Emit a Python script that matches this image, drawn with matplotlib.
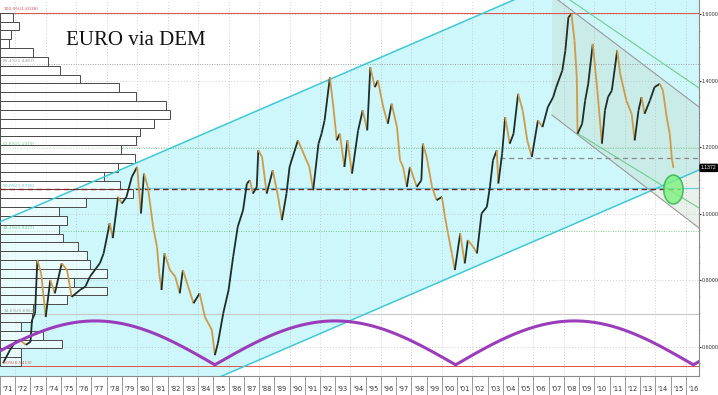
import numpy as np
import matplotlib.pyplot as plt
from matplotlib.collections import LineCollection
from matplotlib.patches import Ellipse, Polygon

# --- data ---
# price path (year, EUR equivalent via DEM), main turning points
price_t = [1971.2, 1971.65, 1972.0, 1972.3, 1972.7, 1973.0, 1973.1, 1973.3, 1973.45, 1973.7,
           1974.0, 1974.3, 1974.6, 1975.05, 1975.4, 1975.7, 1976.25, 1976.6, 1976.9, 1977.56,
           1977.8, 1978.2, 1978.4, 1978.75, 1979.0, 1979.3, 1979.65, 1980.0, 1980.25, 1980.45,
           1980.7, 1981.05, 1981.3, 1981.45, 1981.6, 1981.8, 1982.15, 1982.5, 1982.8, 1983.0,
           1983.35, 1983.7, 1984.1, 1984.45, 1984.9, 1985.1, 1985.3, 1985.65, 1986.0, 1986.3,
           1986.6, 1986.95, 1987.2, 1987.4, 1987.6, 1987.85, 1987.95, 1988.2, 1988.5, 1988.9,
           1989.25, 1989.5, 1989.8, 1990.0, 1990.55, 1991.3, 1991.55, 1991.9, 1992.1, 1992.3,
           1992.65, 1992.9, 1993.1, 1993.3, 1993.6, 1993.8, 1994.1, 1994.5, 1994.8, 1995.1,
           1995.3, 1995.6, 1995.8, 1996.15, 1996.45, 1996.7, 1997.05, 1997.25, 1997.45, 1997.7,
           1997.9, 1998.35, 1998.65, 1998.75, 1999.0, 1999.35, 1999.65, 2000.0, 2000.2, 2000.4,
           2000.65, 2000.85, 2001.2, 2001.5, 2001.7, 2002.05, 2002.3, 2002.6, 2002.95, 2003.15,
           2003.35, 2003.6, 2003.7, 2003.95, 2004.15, 2004.45, 2004.7, 2005.0, 2005.3, 2005.6,
           2005.9, 2006.3, 2006.6, 2006.95, 2007.3, 2007.5, 2007.9, 2008.1, 2008.3, 2008.5,
           2008.7, 2008.85, 2008.9, 2009.2, 2009.4, 2009.6, 2009.9, 2010.2, 2010.5, 2010.7,
           2010.9, 2011.15, 2011.5, 2011.7, 2012.1, 2012.45, 2012.65, 2012.9, 2013.1, 2013.3,
           2013.65, 2013.95, 2014.3, 2014.5, 2014.75, 2014.95, 2015.1, 2015.2]
price_v = [0.550, 0.589, 0.614, 0.620, 0.605, 0.614, 0.680, 0.700, 0.860, 0.820,
           0.689, 0.800, 0.760, 0.850, 0.830, 0.749, 0.770, 0.780, 0.810, 0.851,
           0.880, 0.971, 0.926, 1.050, 1.030, 1.050, 1.110, 1.140, 1.000, 1.120,
           1.080, 0.960, 0.900, 0.820, 0.770, 0.880, 0.830, 0.810, 0.760, 0.830,
           0.780, 0.730, 0.760, 0.689, 0.650, 0.574, 0.610, 0.700, 0.770, 0.870,
           0.960, 1.010, 1.090, 1.100, 1.060, 1.080, 1.190, 1.170, 1.060, 1.130,
           1.050, 0.980, 1.060, 1.140, 1.220, 1.140, 1.070, 1.210, 1.240, 1.280,
           1.410, 1.310, 1.220, 1.240, 1.140, 1.220, 1.120, 1.250, 1.310, 1.250,
           1.440, 1.380, 1.400, 1.320, 1.270, 1.330, 1.260, 1.160, 1.140, 1.080,
           1.140, 1.080, 1.100, 1.210, 1.170, 1.080, 1.040, 1.050, 0.990, 0.940,
           0.880, 0.830, 0.940, 0.850, 0.920, 0.900, 0.880, 1.000, 1.020, 1.080,
           1.160, 1.190, 1.090, 1.180, 1.290, 1.210, 1.240, 1.360, 1.310, 1.220,
           1.170, 1.280, 1.260, 1.320, 1.350, 1.380, 1.430, 1.490, 1.590, 1.600,
           1.520, 1.410, 1.240, 1.270, 1.340, 1.390, 1.510, 1.370, 1.210, 1.310,
           1.350, 1.370, 1.490, 1.420, 1.340, 1.300, 1.220, 1.310, 1.350, 1.300,
           1.340, 1.380, 1.390, 1.370, 1.290, 1.240, 1.160, 1.1372]
last_price = 1.1372

# volume-at-price profile, 40 bins from the high (first) down to the low
profile = [13, 19, 11, 9, 33, 48, 60, 80, 119, 136, 166, 170, 154, 140, 136, 121, 135,
           118, 104, 120, 133, 86, 59, 67, 59, 63, 78, 87, 90, 107, 74, 107, 67, 33, 32,
           21, 43, 62, 21, 21]

range_low, range_high = 0.5413, 1.6038
fib_pcts = [100.0, 85.4, 61.8, 50.0, 38.2, 14.6, 0.0]
fib_colors = ['#e05050', '#a0a0a0', '#7ccf8c', '#5cc8cc', '#7ccf8c', '#a0a0a0', '#e05050']

# rising channel: lower line through two points, upper line shifted
chan_lo = [(1993.77, 0.6737), (2016.87, 1.1308)]
chan_width = 0.752
# descending channel (2008 high onward)
desc_upper = [(2007.22, 1.656), (2016.87, 1.3203)]
desc_lower = [(2007.22, 1.2962), (2016.87, 0.9564)]
green_upper = [(2008.4, 1.6421), (2016.87, 1.3774)]
green_lower = [(2008.86, 1.2421), (2016.87, 1.0165)]
support_2005 = 1.167
level_cyan = 1.078

# cycle lows for the purple arcs
cycle_lows = [1969.4, 1985.1, 2000.9, 2016.5]
cycle_base, cycle_top = 0.545, 0.677

years = list(range(1971, 2017))
x0, x1 = 1971.0, 2016.87
y0, y1 = 0.5113, 1.6421

narrow = ['Liberation Sans Narrow', 'Liberation Sans', 'DejaVu Sans']

fig = plt.figure(figsize=(7.18, 3.95), dpi=100)
ax = fig.add_axes([0, 19 / 395, 699 / 718, 376 / 395])
ax.set_xlim(x0, x1)
ax.set_ylim(y0, y1)

# rising channel fill + lines
slope = (chan_lo[1][1] - chan_lo[0][1]) / (chan_lo[1][0] - chan_lo[0][0])
xx = np.array([x0 - 1, x1 + 1])
lo = chan_lo[0][1] + slope * (xx - chan_lo[0][0])
ax.fill_between(xx, lo, lo + chan_width, color='#cdf7fb', zorder=0.5, lw=0)
ax.plot(xx, lo, color='#3ec9d9', lw=1.1, zorder=3)
ax.plot(xx, lo + chan_width, color='#3ec9d9', lw=1.1, zorder=3)

# descending channel shading
poly = Polygon([desc_upper[0], desc_upper[1], desc_lower[1], desc_lower[0]],
               closed=True, facecolor='#c4d8c6', alpha=0.35, lw=0, zorder=0.8)
ax.add_patch(poly)
for seg, col in [(desc_upper, '#9a9a9a'), (desc_lower, '#9a9a9a'),
                 (green_upper, '#6fcf8a'), (green_lower, '#6fcf8a')]:
    ax.plot([seg[0][0], seg[1][0]], [seg[0][1], seg[1][1]], color=col, lw=0.8, zorder=3)

# grid
for yr in range(1972, 2017, 2):
    ax.axvline(yr, color='#bdbdbd', lw=0.6, ls=(0, (1, 2.5)), zorder=1)
for lv in [0.6, 0.8, 1.0, 1.2, 1.4, 1.6]:
    ax.axhline(lv, color='#bdbdbd', lw=0.6, ls=(0, (1, 2.5)), zorder=1)

# fibonacci levels
for pct, col in zip(fib_pcts, fib_colors):
    lv = range_low + pct / 100 * (range_high - range_low)
    if pct in (100.0, 0.0):
        ax.axhline(lv, color=col, lw=0.7, zorder=2)
    elif pct == 50.0:
        ax.plot([x0, 2015.6], [lv, lv], color='#8b2020', lw=1.0, ls=(0, (4, 2.5)), zorder=3.5)
    elif pct == 14.6:
        ax.axhline(lv, color='#c8c8c8', lw=0.8, zorder=2)
    else:
        ax.axhline(lv, color=col, lw=0.7, ls=(0, (1, 1.5)), zorder=2)
    ax.text(x0 + 0.2, lv + 0.004, f'{pct:.1f}%({lv:.4f})', color=col, fontsize=3.2,
            va='bottom', ha='left', zorder=6)

ax.plot([1979.8, x1], [level_cyan, level_cyan], color='#5fd3de', lw=0.9, zorder=2.5)
ax.plot([2003.8, x1], [support_2005, support_2005], color='#8a8a8a', lw=0.9,
        ls=(0, (4, 3)), zorder=3)

# volume profile bars
bin_h = (range_high - range_low) / len(profile)
centers = [range_high - (i + 0.5) * bin_h for i in range(len(profile))]
ax.barh(centers, np.array(profile) / 15.24, height=bin_h, left=x0,
        facecolor=(1, 1, 1, 0.55), edgecolor='#4a4a4a', lw=0.7, zorder=2.6)

# price line, dark when rising, orange when falling
pts = np.column_stack([price_t, price_v])
segs = np.stack([pts[:-1], pts[1:]], axis=1)
cols = ['#1e2d28' if b > a else '#d09a46' for a, b in zip(price_v[:-1], price_v[1:])]
ax.add_collection(LineCollection(segs, colors=cols, linewidths=1.3, zorder=4))

# purple cycle arcs
for a, b in zip(cycle_lows[:-1], cycle_lows[1:]):
    t = np.linspace(a, b, 200)
    ax.plot(t, cycle_base + (cycle_top - cycle_base) * np.sin(np.pi * (t - a) / (b - a)),
            color='#9b3dbb', lw=2.2, zorder=4.5, solid_capstyle='round')
t = np.linspace(cycle_lows[-1], cycle_lows[-1] + 1.5, 20)
ax.plot(t, cycle_base + (cycle_top - cycle_base) * np.sin(np.pi * (t - cycle_lows[-1]) / 15.7),
        color='#9b3dbb', lw=2.2, zorder=4.5)

# target ellipse
ax.add_patch(Ellipse((2015.19, 1.0722), 1.27, 0.087, facecolor='#7ff07f', edgecolor='#2fb54d',
                     lw=1.2, alpha=0.8, zorder=5))

# title
ax.text(1979.9, 1.52, 'EURO via DEM', fontsize=15, family='Liberation Serif',
        ha='center', va='center', color='#111111', zorder=6)

# axes styling
for s in ['top', 'left']:
    ax.spines[s].set_visible(False)
ax.spines['right'].set_color('#8a8a8a')
ax.spines['bottom'].set_color('#8a8a8a')
ax.spines['right'].set_linewidth(0.8)
ax.spines['bottom'].set_linewidth(0.8)

ax.yaxis.tick_right()
ax.set_yticks([0.6, 0.8, 1.0, 1.2, 1.4, 1.6])
ax.set_yticklabels([f'{v:.4f}' for v in [0.6, 0.8, 1.0, 1.2, 1.4, 1.6]])
ax.set_yticks(np.arange(0.55, 1.64, 0.05), minor=True)
ax.tick_params(axis='y', which='major', length=1.5, width=0.8, pad=0.5, labelsize=3.9,
               colors='#333333', direction='out')
ax.tick_params(axis='y', which='minor', length=1, width=0.5, colors='#888888')
for lab in ax.get_yticklabels():
    lab.set_family(narrow)

ax.set_xticks([y + 0.5 for y in years])
ax.set_xticklabels([f"'{y % 100:02d}" for y in years])
ax.set_xticks(years, minor=True)
ax.tick_params(axis='x', which='major', length=0, pad=7, labelsize=4.8, colors='#333333')
ax.tick_params(axis='x', which='minor', length=14, width=0.6, color='#8a8a8a', direction='out')

ax.annotate(f'{last_price:.4f}', xy=(1.0, last_price), xycoords=('axes fraction', 'data'),
            xytext=(1.5, 0), textcoords='offset points', fontsize=3.7, color='white',
            family=narrow, ha='left', va='center', annotation_clip=False,
            bbox=dict(boxstyle='round,pad=0.2', fc='black', ec='black'))

fig.savefig('out.png', dpi=100)
